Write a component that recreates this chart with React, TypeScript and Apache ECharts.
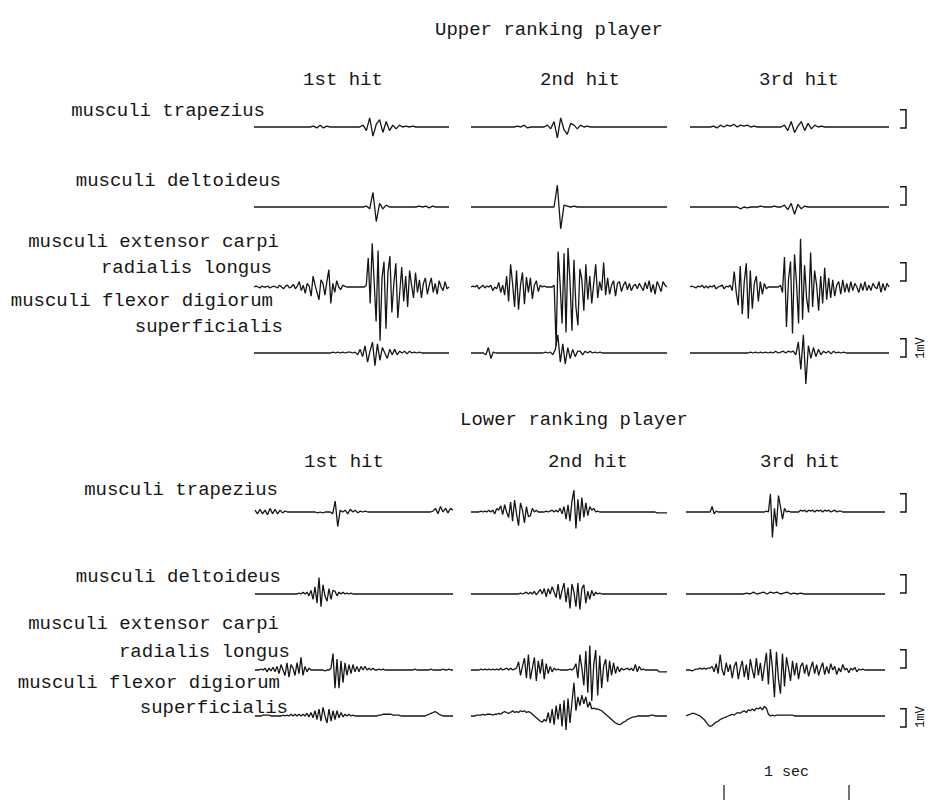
import React, { useEffect, useRef } from "react";
import * as echarts from "echarts";

// ---------- labels ----------
const TITLES = ["Upper ranking player", "Lower ranking player"];
const HITS = ["1st hit", "2nd hit", "3rd hit"];
const MUSCLES = [
  ["musculi trapezius"],
  ["musculi deltoideus"],
  ["musculi extensor carpi", "radialis longus"],
  ["musculi flexor digiorum", "superficialis"],
];
const SCALE_V = "1mV";
const SCALE_T = "1 sec";

// ---------- EMG traces (mV), upper ranking player ----------
const UP_TRAP_1 = [0,0,0,0,0,0,0,0,0,0, 0,0,0,0,0,0,0,0,0.05,-0.05, 0.1,-0.05,0.05,0,0,0,0,0,0,0, 0,0,0,0.1,-0.2,0.5,-0.5,0.15,0.4,-0.3, 0.3,-0.2,0.1,-0.1,0.1,0,0.05,0,0.05,0, 0,0,0,0,0,0,0,0,0,0];
const UP_TRAP_2 = [0,0,0,0,0,0,0,0,0,0, 0,0,0,0,0.05,0,0.1,-0.05,0,0, 0,0,0,0.1,-0.1,0.3,-0.6,0.5,-0.15,-0.4,0.2, 0.1,-0.1,0.1,0,0.05,0,0,0,0, 0,0,0,0,0,0,0,0,0,0, 0,0,0,0,0,0,0,0,0,0];
const UP_TRAP_3 = [0,0,0,0,0,0,0,0.05,-0.05,0.1, 0,0.1,0.05,0.15,0,0.1,0.05,0.1,0,0.05, 0,0,0,0,0,0,0,0,0.1,-0.2, 0.3,-0.3,0.05,0.3,-0.2,0.2,-0.1,0.1,0,0.05, 0,0,0,0,0,0,0,0,0,0, 0,0,0,0,0,0,0,0,0,0];

const UP_DELT_1 = [0,0,0,0,0,0,0,0,0,0, 0,0,0,0,0,0,0,0,0,0, 0,0,0,0,0,0,0,0,0,0, 0,0,0,0,0.05,-0.1,0.8,-0.8,0.2,-0.1, 0.1,0,0,0,0,0,0,0,0,0, 0.05,0,0.05,-0.05,0.05,0,0,0,0,0];
const UP_DELT_2 = [0,0,0,0,0,0,0,0,0,0, 0,0,0,0,0,0,0,0,0,0, 0,0,0,0,0,0,1.2,-1.2,0.1,0.05, 0,0.05,0,0,0,0,0,0,0,0, 0,0,0,0,0,0,0,0,0,0, 0,0,0,0,0,0,0,0,0,0];
const UP_DELT_3 = [0,0,0,0,0,0,0,0,0,0, 0,0,0,0,0,-0.1,0,-0.05,0,0, 0,0.05,0,0,0,0.05,0,0,0.1,-0.15, 0.2,-0.4,0.15,-0.1,0.05,0,0,0,0,0, 0,0,0,0,0,0,0,0,0,0, 0,0,0,0,0,0,0,0,0,0];

const UP_EXT_1 = [0,0.05,0,-0.05,0.05,0,0,0.05,-0.05,0, 0.05,0,-0.05,0.1,0,-0.1,0.05,0.1,-0.05,0, 0.15,-0.1,0.05,0.3,-0.2,0.1,-0.35,0.2,0.05,-0.5, 0.6,0.1,-0.3,-0.7,0.4,0.2,-0.45,0.3,0.95,-0.9, 0.2,-0.3,0.35,0,-0.15,0.1,0.05,0,0,0, 0,0,0,0,0,0,0,0.1,1.6,-0.9, 2.4,0.3,-1.9,2.0,-2.95,0.5,1.4,-2.3,0.8,1.7, -1.4,0.2,1.3,-1.7,-0.3,1.1,-0.8,0.6,-1.1,0.9, 0.1,-0.6,0.8,-0.3,0.4,-0.6,0.2,0.5,-0.4,0.1, 0.5,-0.3,0.2,-0.4,0.35,0,-0.2,0.3,-0.1,0];
const UP_EXT_2 = [0,0.05,0,0.1,-0.1,0,0.1,-0.05,0.05,0, 0.1,-0.2,0,-0.1,0.25,-0.3,0.1,-0.45,0.6,-0.8, 1.25,0.2,-1.1,0.9,-1.25,0.1,0.8,-0.95,0.55,-0.3, 0.5,-0.65,0.1,0.35,-0.25,0.1,0,0.05,0,0, 0,0,0.1,-3.25,1.95,0.2,-2.0,1.85,-2.5,2.15, 0.3,-2.4,1.5,-1.1,-2.1,1.0,0.4,-1.3,1.25,-0.7, 0.6,-0.9,0.2,1.25,-0.6,0.3,-0.2,1.35,-0.45,0.5, -0.4,0.1,0.35,-0.5,0.2,0.3,-0.25,0.1,0.3,-0.15, 0.2,-0.2,0.05,0.15,-0.1,0.2,0,-0.2,0.25,-0.1, 0.35,-0.3,0.15,-0.4,0.3,0.05,-0.25,0.3,0.1,0];
const UP_EXT_3 = [0,0.05,0,-0.05,0.05,0,0.1,-0.05,0.05,-0.05, 0.05,0,0.1,-0.1,0,0.05,0.1,-0.1,0.05,0, 0.1,-0.2,0.85,-0.3,-1.0,1.15,-1.5,0.3,1.3,-1.75, 0.9,-1.2,0.2,0.6,-0.8,0.3,-0.4,0.2,-0.1,0, 0,0,0,0,0,0.1,-0.3,1.65,-2.2,0.4, 1.4,-2.55,1.8,0.2,-2.0,2.65,-1.8,1.2,-0.6,-1.4, 1.9,-1.1,0.9,0.1,-1.3,0.6,-0.9,1.05,-0.7,0.5, -0.6,0.4,-0.5,0.1,0.3,-0.4,0.4,-0.3,0.2,-0.3, 0.3,-0.2,0.2,0,-0.3,0.2,-0.2,0.3,-0.2,0.1, -0.2,0.2,0,-0.1,0.3,-0.3,0.2,-0.2,0.2,0];

const UP_FLEX_1 = [0,0,0,0,0,0,0,0,0,0, 0,0,0,0,0,0,0,0,0,0, 0,0,0,0,0,0,0,0,0,0, 0,0,0.05,0,0.05,0,0.05,0,0.05,0.05, 0,0.05,-0.1,0.2,-0.2,0.4,-0.5,0.1,0.6,-0.7, 0.5,-0.4,0.3,0,-0.3,0.2,-0.1,0.2,-0.1,0.1, 0,0.1,-0.05,0.1,0,0.05,0,0.05,0,0, 0,0,0,0,0,0,0,0,0,0];
const UP_FLEX_2 = [0,0,0,0,0,0,-0.1,0.3,-0.3,0.05, 0,0,0,0,0,0,0,0,0,0, 0,0,0,0,0,0,0,0,0,0, 0.05,0,0.05,-0.1,0.2,1.0,-0.5,0.5,-0.6,0.3, -0.3,0.2,-0.2,0.1,0.1,-0.1,0.1,0,0.1,0, 0.05,0,0.05,0,0,0,0,0,0,0, 0,0,0,0,0,0,0,0,0,0, 0,0,0,0,0,0,0,0,0,0];
const UP_FLEX_3 = [0,0,0,0,0,0,0,0,0,0, 0,0,0,0,0,0,0,0,0,0, 0,0,0,0,0.05,0,0.05,0,0.05,0, 0.05,0,0.05,0,0.1,0,0.05,0.1,0,0.1, 0.05,0.1,-0.1,0.6,-0.9,1.0,-1.7,0.4,-0.3,0.3, -0.2,0.2,-0.1,0.1,0,0.1,-0.05,0.1,0,0.05, 0,0.05,0,0,0,0,0,0,0,0, 0,0,0,0,0,0,0,0,0,0];

// ---------- EMG traces (mV), lower ranking player ----------
const LO_TRAP_1 = [0.1,-0.1,0.15,-0.1,0.1,-0.15,0.2,-0.1,0.15,-0.1, 0.1,-0.05,0.05,0,0,0,0,0,0,0, 0,0,0,0,0,-0.05,0,-0.05,0,0, 0,-0.1,0.6,-0.8,0.1,0,0.1,-0.1,0.15,0, 0.1,-0.05,0.05,0,0.05,0,0,0,0,0, 0,0,0,0,0,0,0,0,0,0, 0,0,0,0,0,0,0,0,0,0, 0,0.05,0.2,-0.1,0.3,0,0.2,-0.05,0.2,0.1];
const LO_TRAP_2 = [0,0,0,0,0,0.05,0,0.05,0,0.1, 0,0.1,-0.1,0.2,0.1,0.35,-0.15,0.4,0,-0.3, 0.55,-0.5,0.65,-0.1,-0.75,0.5,0.1,-0.6,0.3,-0.25, -0.2,0.2,0,0.1,0,0,0,0,0.05,0, 0.05,0.1,0,0.1,0,0.2,-0.1,0.3,-0.4,0.4, -0.5,0.6,1.2,-0.9,0.7,-0.5,0.8,-0.3,0.5,-0.2, 0.3,0.1,0.2,0,0.05,0,0,0,0,0, 0,0,0,0,0,0,0,0,0,0, 0,0,0,0,0,0,0,0,0,0, 0,0,0,0,-0.05,-0.05,-0.05,-0.05,-0.05,-0.05];
const LO_TRAP_3 = [0,0,0,0,0,0,0,0,0,0, 0,0,0,0.3,-0.1,0.05,0,0,0,0, 0,0,0,0,0,0,0,0,0,0, 0,0,0,0,0,0,0,0,0,0, 0.05,0,1.0,-1.4,0.2,-0.8,0.9,0.3,-0.4,0.2, 0,0.05,0,0,0,0,0,0.1,0.05,0.1, 0,0.1,0.05,0.1,0,0.1,0.05,0.1,0,0.1, 0.05,0.1,0,0.05,0.1,0,0.05,0.05,0,0, 0,0,0,0,0,0,0,0,0,0, 0,0,0,0,0,0,0,0,0,0];

const LO_DELT_1 = [0,0,0,0,0,0,0,0,0,0, 0,0,0,0,0,0,0,0,0,0, 0,0,0.05,0,0.1,0,0.1,-0.1,0.2,-0.3, 0.4,-0.5,0.9,-0.7,0.5,-0.1,-0.4,0.3,-0.3,0.2, 0.15,-0.1,0.1,0,0.1,0,0.05,0,0.05,0, 0,0,0,0,0,0,0,0,0,0, 0,0,0,0,0,0,0,0,0,0, 0,0,0,0,0,0,0,0,0,0, 0,0,0,0,0,0,0,0,0,0, 0,0,0,0,0,0,0,0,0,0];
const LO_DELT_2 = [0,0,0,0,0,0,0,0,0,0, 0,0,0,0,0,0,0,0,0,0, 0,0,0,0,0,0.05,0,0.05,0.1,0, 0.1,0,0.15,-0.05,0.1,0.25,0,0.3,-0.15,0.3, 0,0.4,0.1,-0.2,0.55,-0.3,0.2,0.6,-0.45,0.35, -0.8,0.55,0.1,-0.7,0.6,-0.85,0.3,0.5,-0.5,0.15, -0.3,0.2,-0.1,0.1,0,0.05,0,0,0,0, 0,0,0,0,0,0,0,0,0,0, 0,0,0,0,0,0,0,0,0,0, 0,0,0,0,0,0,0,0,0,0];
const LO_DELT_3 = [0,0,0,0,0,0,0,0,0,0, 0,0,0,0,0,0,0,0,0.05,0, 0.1,0,0.05,0.1,0,0.1,0.05,0.1,0,0.05, 0.1,0,0.05,0,0.05,0,0,0,0,0, 0,0,0,0,0,0,0,0,0,0, 0,0,0,0,0,0,0,0,0,0];

const LO_EXT_1 = [0,0,0,0.05,0,0.1,-0.1,0.1,-0.05,0.15, -0.1,0.2,-0.2,0.3,0,-0.3,0.4,-0.4,0.3,0.1, -0.3,0.4,-0.2,0.7,-0.3,0.2,-0.1,0.1,0,0, 0,0,0,0,0,-0.05,0,0,0.1,0.9, -1.0,0.6,-1.0,0.5,-0.7,0.4,-0.3,0.3,-0.2,0.3, -0.1,0.2,-0.1,0.2,0,0.2,0,0.1,0,0.1, 0,0,0.05,0,0.05,0,0,0,0,0, 0,0,0,0,0,0,0,0,0,0, 0.05,0,0,0,0,0,0,0,0.05,0, 0,0,0,0,0.05,0,0,0.05,0,0];
const LO_EXT_2 = [0,0,0,0,0,0.05,0,0.05,0,0.05, 0,0.05,0,0.05,0,0.1,0,0.05,0.1,0, 0.1,0,0.05,0.1,0.45,-0.3,0.2,0.65,-0.45,0.85, -0.5,0.1,0.7,-0.6,0.5,-0.2,0.6,-0.5,0.35,-0.2, 0.2,-0.1,0.1,0,0.05,0,0,0,0,0, 0.05,0,0.1,0.35,-0.45,0.85,0.1,-0.85,1.05,-1.25, 1.35,-1.7,0.3,1.1,-1.4,0.8,-1.0,0.2,0.6,-0.65, 0.5,-0.3,0.4,-0.2,0.2,-0.1,0.1,0,0.05,0.1, 0,0.1,-0.05,0.3,-0.1,0.2,0,0.05,0,0, 0,0,0,0,0,-0.1,-0.1,-0.1,-0.1,-0.1];
const LO_EXT_3 = [0,0,0,-0.05,0,0.05,0.05,0.1,0.05,0.1, 0.05,0.1,0.1,0.2,-0.1,0.35,-0.2,0.85,0,-0.3, 0.4,-0.1,0.3,-0.45,0.2,0.45,-0.5,0.1,0.5,-0.4, 0.3,-0.55,0.6,0,-0.45,0.65,-0.3,0.4,-0.6,0.2, 0.95,-0.8,1.15,0.1,-1.5,1.0,-0.5,-1.3,0.9,-0.9, 0.7,0.1,-0.6,0.5,-0.3,0.4,-0.5,0.2,0.4,-0.2, 0.3,-0.35,0.1,0.45,-0.2,0.3,-0.3,0.1,0.4,-0.25, 0.2,-0.2,0.35,0,0.2,-0.25,0.1,-0.1,0.3,0, 0.1,-0.15,0.1,0,0.15,-0.1,0.05,0,0.05,0, 0,0,0,0,0,0,0,0,0,0];

const LO_FLEX_1 = [0,0,0,0,0.05,0.05,0.05,0.05,0,0, 0,0,0,0,0.05,0,0.05,0,0.1,0, 0.1,0,0.1,0,0.1,0,0.15,-0.05,0.2,-0.1, 0.3,-0.2,0.4,-0.3,0.5,0,-0.4,0.4,-0.3,0.3, -0.2,0.3,-0.1,0.2,-0.05,0.1,0,0.1,0,0.05, 0,0,0,0,0,0,0,0,0,0, 0,0,0.05,0.05,0.1,0.1,0.1,0.1,0.1,0.05, 0.05,0.05,0.05,0,0,0,0,0,0,0, 0,0,0,0,0,0,0.05,0.1,0.15,0.2, 0.25,0.2,0.1,0.05,0,0,0,0,0,0];
const LO_FLEX_2 = [0,0,0,0.05,0.05,0.05,0.1,0.05,0.1,0.1, 0.1,0.05,0.1,0.1,0.15,0.1,0.2,0.25,0.2,0.15, 0.2,0.3,0.2,0.25,0.2,0.3,0.25,0.3,0.2,0.25, 0.2,0.1,0,-0.1,-0.2,-0.3,-0.35,-0.2,-0.3,0.2, -0.4,0.4,-0.5,0.6,-0.2,0.7,-0.6,0.9,-0.8,1.0, -0.4,0.8,1.9,0.3,1.1,0.6,1.2,0.7,1.1,0.5, 0.8,0.4,0.45,0.4,0.4,0.35,0.3,0.2,0.1,0, -0.1,-0.2,-0.3,-0.4,-0.45,-0.5,-0.45,-0.35,-0.3,-0.2, -0.15,-0.1,-0.05,-0.05,0,0,0,0,0,0, 0,0.05,0.05,0,0,0,0,0,0,0];
const LO_FLEX_3 = [0,0.05,0.1,0.15,0.15,0.1,0.05,0,-0.1,-0.2, -0.35,-0.5,-0.6,-0.55,-0.45,-0.35,-0.3,-0.2,-0.15,-0.1, -0.05,0,0.05,0.1,0.05,0.15,0.2,0.15,0.25,0.3, 0.2,0.35,0.3,0.4,0.3,0.45,0.4,0.5,0.35,0.55, 0.45,0.1,0,0.05,0,0.05,0.05,0.05,0.05,0.05, 0.05,0.05,0.05,0.05,0,0,0,0,0,0, 0,0,0,0,0,0,0,0,0,0, 0,0,0,0,0,0,0,0,0,0, 0,0,0,0,0,0,0,0,0,0, 0,0,0,0,0,0,0,0,0,0];

const UPPER = [
  [UP_TRAP_1, UP_TRAP_2, UP_TRAP_3],
  [UP_DELT_1, UP_DELT_2, UP_DELT_3],
  [UP_EXT_1, UP_EXT_2, UP_EXT_3],
  [UP_FLEX_1, UP_FLEX_2, UP_FLEX_3],
];
const LOWER = [
  [LO_TRAP_1, LO_TRAP_2, LO_TRAP_3],
  [LO_DELT_1, LO_DELT_2, LO_DELT_3],
  [LO_EXT_1, LO_EXT_2, LO_EXT_3],
  [LO_FLEX_1, LO_FLEX_2, LO_FLEX_3],
];

// ---------- layout ----------
const FONT = "'Liberation Mono', 'DejaVu Sans Mono', monospace";
const INK = "#161616";
const Y_HALF = 5.5; // mV
const GRID_H = 200; // px
const PX_PER_MV = GRID_H / (2 * Y_HALF);

const PANELS = [
  {
    data: UPPER,
    titleY: 30, titleX: 549, hitY: 80, hitX: [343, 580, 799],
    cols: [{ l: 254, w: 195 }, { l: 471, w: 196 }, { l: 690, w: 199 }],
    base: [127, 207, 287, 353],
    labelY: [[111], [181], [242, 268], [301, 327]],
    labelR: [[265], [281], [279, 272], [273, 283]],
    bracketBottom: [128, 205, 281, 357],
    mvY: 348,
  },
  {
    data: LOWER,
    titleY: 420, titleX: 574, hitY: 462, hitX: [344, 588, 800],
    cols: [{ l: 255, w: 198 }, { l: 471, w: 196 }, { l: 686, w: 199 }],
    base: [512, 594, 670, 720],
    labelY: [[490], [577], [624, 652], [683, 708]],
    labelR: [[278], [281], [279, 290], [280, 288]],
    bracketBottom: [512, 593, 668, 727],
    mvY: 717,
  },
];
const BRACKET_X = 906;
const SEC_BAR = { x0: 724, x1: 849, y0: 785, y1: 800, textY: 772 };

export default function App() {
  const ref = useRef<HTMLDivElement>(null);

  useEffect(() => {
    document.body.style.margin = "0";
    if (!ref.current) return;
    const chart = echarts.init(ref.current, undefined, { renderer: "svg" });

    const grid: any[] = [];
    const xAxis: any[] = [];
    const yAxis: any[] = [];
    const series: any[] = [];
    const graphic: any[] = [];

    const txt = (x: number, y: number, s: string, align = "center", size = 19) => ({
      type: "text",
      x, y,
      silent: true,
      style: {
        text: s, x: 0, y: 0, fill: INK, font: `${size}px ${FONT}`,
        textAlign: align, textVerticalAlign: "middle",
      },
    });

    PANELS.forEach((p, pi) => {
      graphic.push(txt(p.titleX, p.titleY, TITLES[pi]));
      HITS.forEach((h, c) => graphic.push(txt(p.hitX[c], p.hitY, h)));
      MUSCLES.forEach((lines, r) => {
        lines.forEach((s, k) => graphic.push(txt(p.labelR[r][k], p.labelY[r][k], s, "right")));
        p.data[r].forEach((vals, c) => {
          const k = grid.length;
          grid.push({ left: p.cols[c].l, width: p.cols[c].w, top: p.base[r] - GRID_H / 2, height: GRID_H });
          xAxis.push({ type: "value", gridIndex: k, min: 0, max: vals.length - 1, show: false });
          yAxis.push({ type: "value", gridIndex: k, min: -Y_HALF, max: Y_HALF, show: false });
          series.push({
            type: "line", xAxisIndex: k, yAxisIndex: k, symbol: "none", silent: true,
            clip: false, lineStyle: { color: INK, width: 1.3 },
            data: vals.map((v, i) => [i, v]),
          });
        });
        // 1 mV calibration bracket
        const b = p.bracketBottom[r];
        const t = b - PX_PER_MV;
        graphic.push({
          type: "polyline", silent: true,
          shape: { points: [[BRACKET_X - 6, t], [BRACKET_X, t], [BRACKET_X, b], [BRACKET_X - 6, b]] },
          style: { stroke: INK, lineWidth: 1.5, fill: null },
        });
      });
      graphic.push({
        type: "text", x: 921, y: p.mvY, rotation: Math.PI / 2, silent: true,
        style: { text: SCALE_V, x: 0, y: 0, fill: INK, font: `12px ${FONT}`, textAlign: "center", textVerticalAlign: "middle" },
      });
    });

    // 1 sec time bar
    graphic.push({ type: "line", silent: true, shape: { x1: SEC_BAR.x0, y1: SEC_BAR.y0, x2: SEC_BAR.x0, y2: SEC_BAR.y1 }, style: { stroke: INK, lineWidth: 1.2 } });
    graphic.push({ type: "line", silent: true, shape: { x1: SEC_BAR.x1, y1: SEC_BAR.y0, x2: SEC_BAR.x1, y2: SEC_BAR.y1 }, style: { stroke: INK, lineWidth: 1.2 } });
    graphic.push(txt((SEC_BAR.x0 + SEC_BAR.x1) / 2, SEC_BAR.textY, SCALE_T, "center", 15));

    chart.setOption({
      animation: false,
      backgroundColor: "#ffffff",
      grid, xAxis, yAxis, series, graphic,
    });
    return () => chart.dispose();
  }, []);

  return <div ref={ref} style={{ width: 928, height: 812 }} />;
}
